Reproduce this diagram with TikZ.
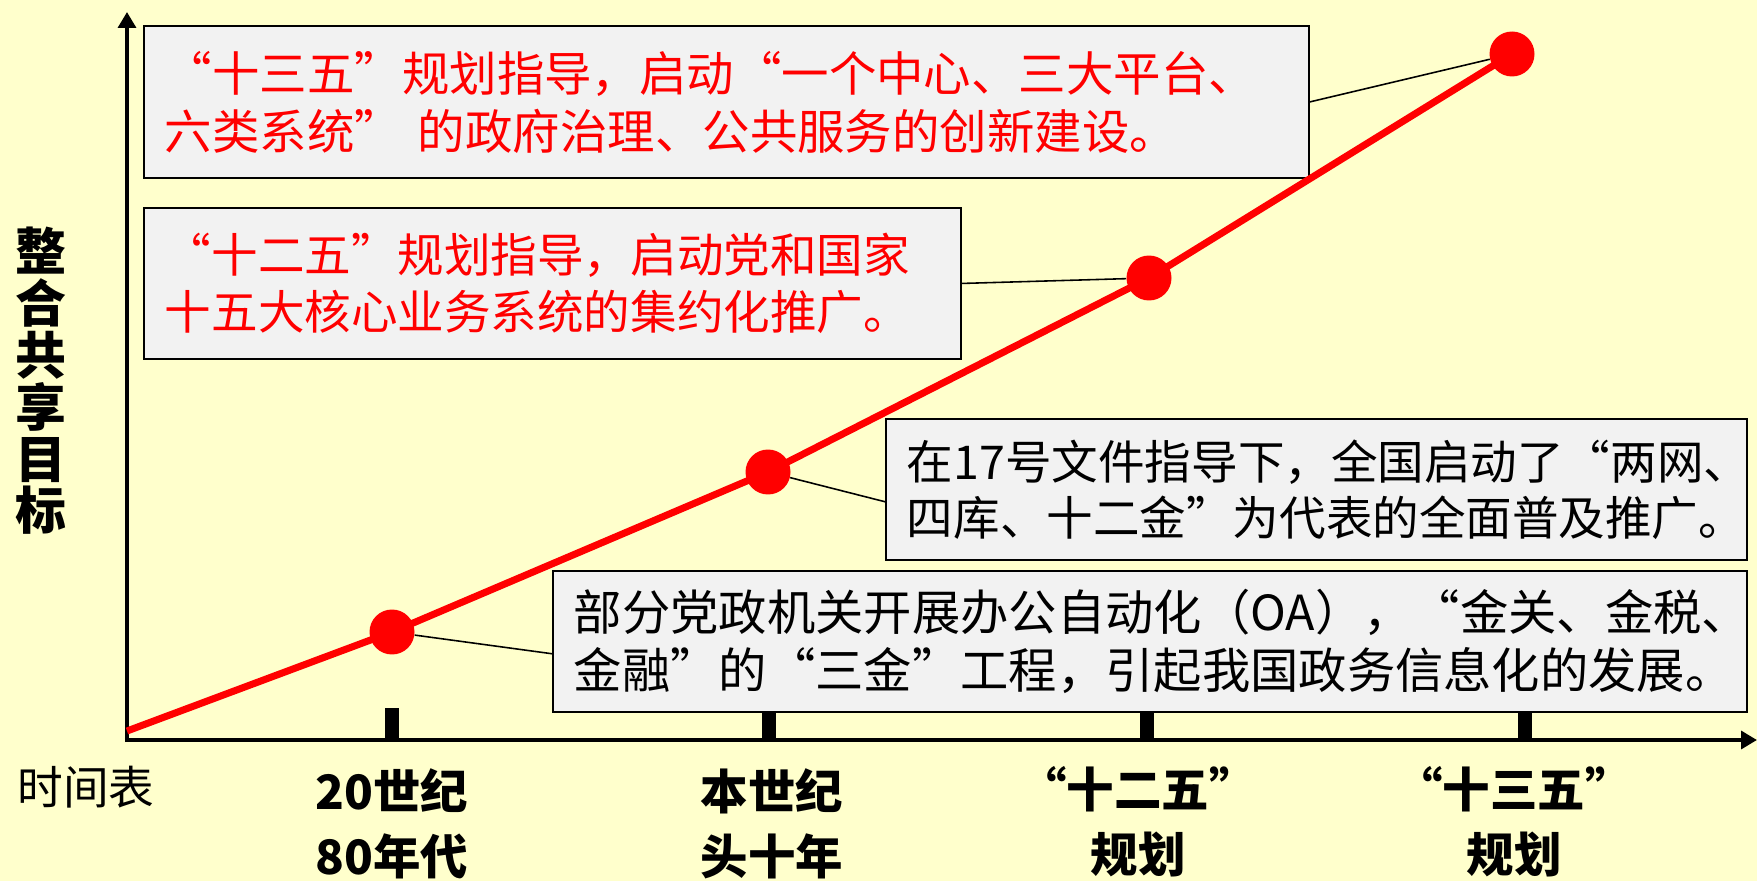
\documentclass[tikz,border=0pt]{standalone}
\usepackage{fontspec}
\setmainfont{Noto Sans CJK SC}
\definecolor{mYellow}{HTML}{FFFFCC}
\definecolor{mGray}{HTML}{F2F2F2}
\definecolor{mRed}{HTML}{FF0000}
\usepackage{tikz}
\usetikzlibrary{arrows.meta}

\begin{document}
\begin{tikzpicture}[x=0.02cm, y=-0.02cm,
		infobox/.style={draw, line width=1.1pt, fill=mGray, anchor=north west, align=left, inner xsep=0.42cm, inner ysep=0pt, font=\fontsize{27}{33}\selectfont},
		dot/.style={circle, fill=mRed, inner sep=0pt, minimum size=0.9cm},
		tick/.style={fill=black, inner sep=0pt, minimum width=0.28cm, minimum height=0.6cm},
		ticklabel/.style={align=center, font=\bfseries\fontsize{27}{37}\selectfont},
		axis/.style={line width=2.4pt, -{Triangle[length=9pt, width=10pt]}},
		link/.style={line width=0.9pt},
		trend/.style={line width=4pt, mRed}]
		\path[use as bounding box, fill=mYellow] (0,0) rectangle (1757,881);
		% axes
		\coordinate (origin) at (127,740);
		\coordinate (ytop) at (127,12);
		\coordinate (xend) at (1757,740);
		\coordinate (start) at (127,731);
		\draw[axis] ([yshift=-1.2pt]origin) -- (ytop);
		\draw[axis] ([xshift=-1.2pt]origin) -- (xend);
		\node[align=center, font=\bfseries\fontsize{29}{29.5}\selectfont] (goal) at (41,381) {整\\合\\共\\享\\目\\标};
		\node[font=\fontsize{26}{30}\selectfont] (timeline) at (86,787) {时间表};
		\foreach \x /\alph in {392/t1, 769/t2, 1147/t3, 1525/t4}{
			\node[tick] (\alph) at (\x,723) {};
		}
		\node[ticklabel] (lt1) at (392,824) {20世纪\\80年代};
		\node[ticklabel] (lt2) at (772,824) {本世纪\\头十年};
		\node[ticklabel] (lt3) at (1138,822) {“十二五”\\规划};
		\node[ticklabel] (lt4) at (1514,822) {“十三五”\\规划};
		% boxes
		\node[infobox, text=mRed, text width=22.46cm, minimum height=3.04cm] (plan13) at (143,25)
			{“十三五”规划指导，启动“一个中心、三大平台、\\六类系统” 的政府治理、公共服务的创新建设。};
		\node[infobox, text=mRed, text width=15.5cm, minimum height=3.02cm, font=\fontsize{26.5}{32.5}\selectfont] (plan12) at (143,207)
			{“十二五”规划指导，启动党和国家\\十五大核心业务系统的集约化推广。};
		\node[infobox, text width=16.38cm, minimum height=2.82cm, font=\fontsize{26.5}{32}\selectfont] (doc17) at (885,418)
			{在17号文件指导下，全国启动了“两网、\\四库、十二金”为代表的全面普及推广。};
		\node[infobox, text width=23.04cm, minimum height=2.82cm, font=\fontsize{27.5}{33.5}\selectfont] (oa80) at (552,570)
			{部分党政机关开展办公自动化（OA），“金关、金税、\\金融”的“三金”工程，引起我国政务信息化的发展。};
		% stages
		\foreach \x /\y /\alph in {392/632/p1, 768/472/p2, 1149/278/p3, 1512/54/p4}{
			\node[dot] (\alph) at (\x,\y) {};
		}
		\draw[trend] (start) -- (p1.center) -- (p2.center) -- (p3.center) -- (p4.center);
		\draw[link] (p4) -- (plan13.east);
		\draw[link] (p3) -- (plan12.east);
		\draw[link] (p2) -- ([yshift=-7pt]doc17.west);
		\draw[link] (p1) -- ([yshift=-7pt]oa80.west);
	\end{tikzpicture}
\end{document}
